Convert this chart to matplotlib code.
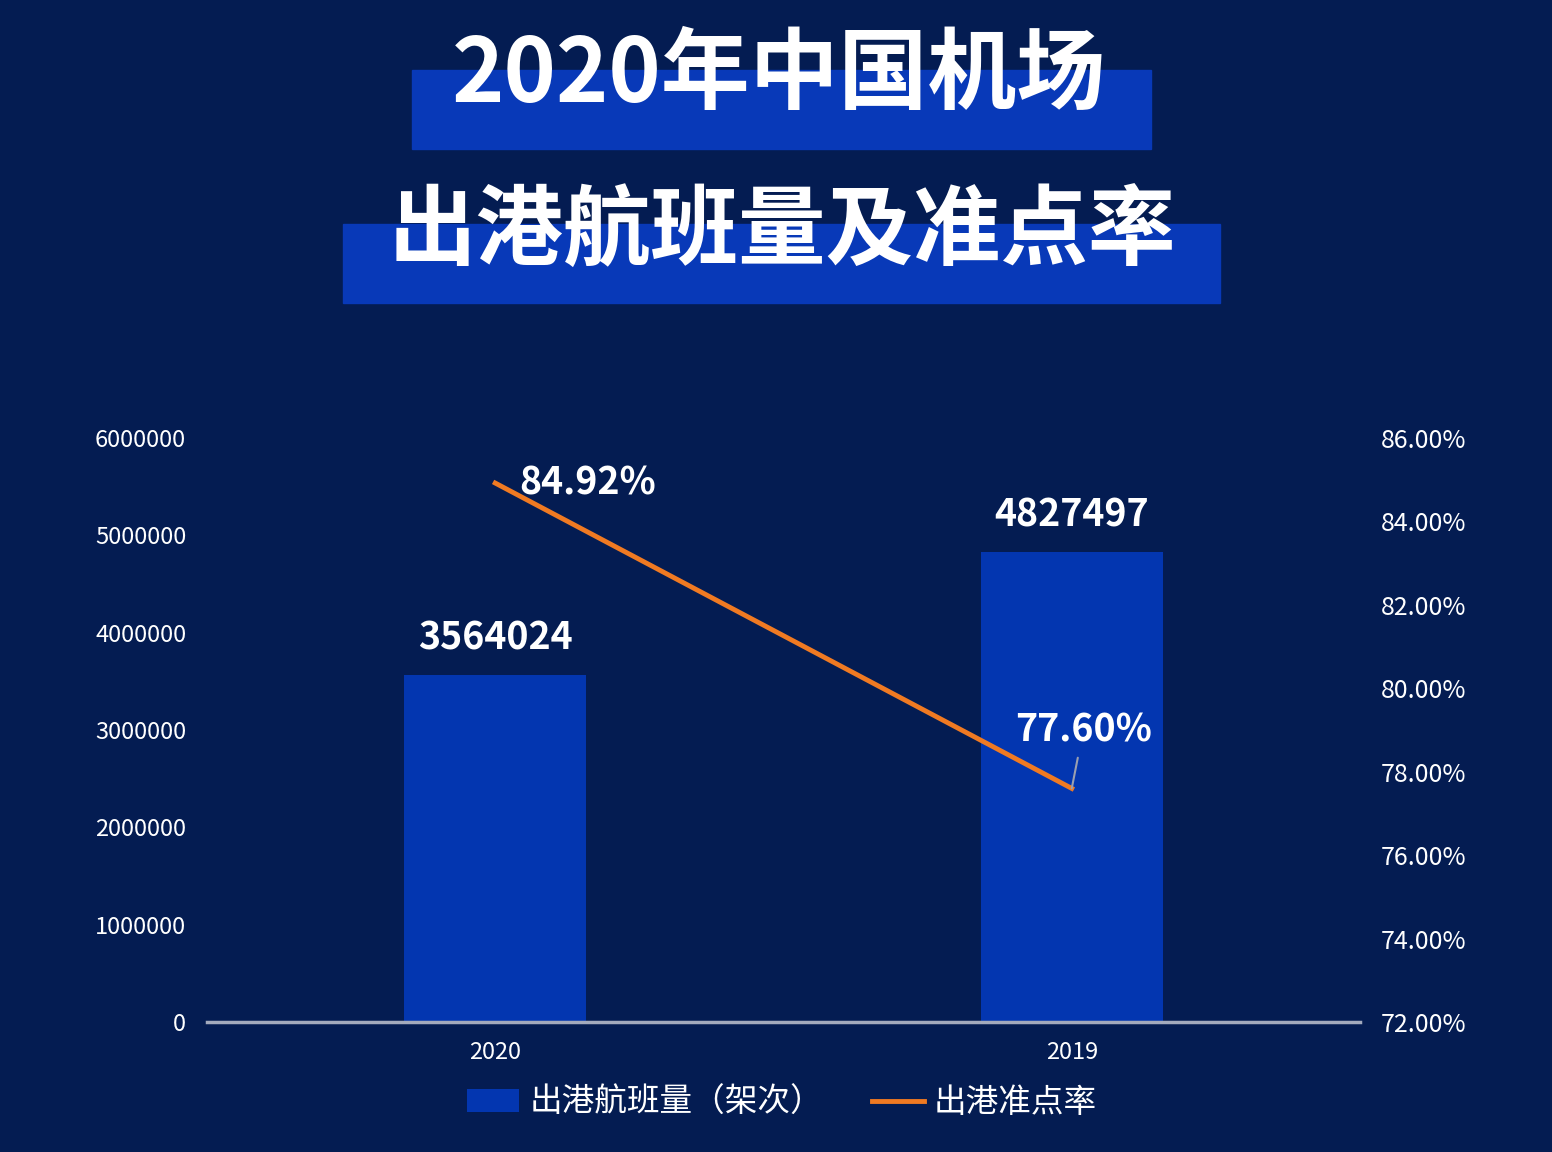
import matplotlib.pyplot as plt
from matplotlib.patches import Rectangle
from matplotlib.ticker import FuncFormatter

plt.rcParams['font.family'] = ['Noto Sans CJK SC', 'DejaVu Sans']

# data
years = ['2020', '2019']
flights = [3564024, 4827497]
ontime = [84.92, 77.60]

bg = '#041c52'
bar_col = '#0336b0'
band_col = '#0839b8'
line_col = '#f07a22'

fig = plt.figure(figsize=(15.52, 11.52), dpi=100)
fig.patch.set_facecolor(bg)
W, H = 1552, 1152

def fx(px):
    return px / W

def fy(py):
    return 1 - py / H

# title bands
fig.patches.append(Rectangle((fx(412), fy(149)), fx(1151) - fx(412), fy(70) - fy(149),
                             transform=fig.transFigure, color=band_col, zorder=0))
fig.patches.append(Rectangle((fx(343), fy(303)), fx(1220) - fx(343), fy(224) - fy(303),
                             transform=fig.transFigure, color=band_col, zorder=0))
fig.text(fx(779), fy(76), '2020年中国机场', color='white', fontsize=64, fontweight='bold',
         ha='center', va='center', zorder=2)
fig.text(fx(782), fy(234), '出港航班量及准点率', color='white', fontsize=63, fontweight='bold',
         ha='center', va='center', zorder=2)

ax = fig.add_axes([fx(207), fy(1022), fx(1360) - fx(207), fy(438) - fy(1022)])
ax.set_facecolor('none')
x = list(range(len(years)))
bars = ax.bar(x, flights, width=0.315, color=bar_col, label='出港航班量（架次）', zorder=1)
ax.set_xlim(-0.5, 1.5)
ax.set_ylim(0, 6000000)
ax.set_yticks(range(0, 6000001, 1000000))
ax.yaxis.set_major_formatter(FuncFormatter(lambda v, p: f'{int(v)}'))
ax.set_xticks(x)
ax.set_xticklabels(years)
for s in ['top', 'right', 'left']:
    ax.spines[s].set_visible(False)
ax.spines['bottom'].set_color('#a3aabd')
ax.spines['bottom'].set_linewidth(2.5)
ax.tick_params(colors='white', labelsize=17, length=0)
ax.tick_params(axis='y', pad=15)
ax.tick_params(axis='x', pad=14)

for xi, v in zip(x, flights):
    ax.text(xi, v + 180000, str(v), color='white', fontsize=27, fontweight='bold',
            ha='center', va='bottom')

ax2 = ax.twinx()
ax2.set_ylim(72, 86)
ax2.set_yticks(range(72, 87, 2))
ax2.yaxis.set_major_formatter(FuncFormatter(lambda v, p: f'{v:.2f}%'))
for s in ax2.spines.values():
    s.set_visible(False)
ax2.tick_params(colors='white', labelsize=18, length=0, pad=15)
line, = ax2.plot(x, ontime, color=line_col, lw=3.5, label='出港准点率', zorder=3)

ax2.text(x[0] + 0.16, ontime[0], f'{ontime[0]:.2f}%', color='white', fontsize=27,
         fontweight='bold', ha='center', va='center')
ax2.annotate(f'{ontime[1]:.2f}%', xy=(x[1], ontime[1]), xytext=(x[1] + 0.02, ontime[1] + 1.4),
             color='white', fontsize=27, fontweight='bold', ha='center', va='center',
             arrowprops=dict(arrowstyle='-', color='#9aa0b0', lw=1.5, shrinkA=4, shrinkB=0))

fig.legend([bars, line], ['出港航班量（架次）', '出港准点率'], loc='center',
           bbox_to_anchor=(fx(782), fy(1103)), ncol=2, frameon=False, fontsize=23.5,
           labelcolor='white', handlelength=1.6, handleheight=0.7, columnspacing=1.5,
           handletextpad=0.3)

fig.savefig('out.png', dpi=100, facecolor=bg)
